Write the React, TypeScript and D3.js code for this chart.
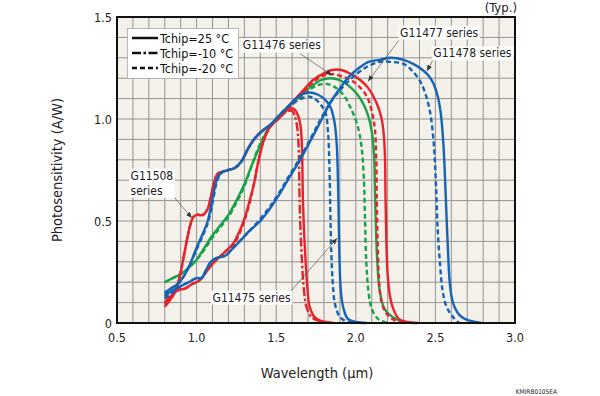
import * as d3 from "d3";
import { useEffect, useRef } from "react";

const WIDTH = 600;
const HEIGHT = 396;
const FONT = "'DejaVu Sans Condensed', 'Liberation Sans', Arial, sans-serif";

// axis ticks
const xTicks = [0.5, 1.0, 1.5, 2.0, 2.5, 3.0];
const yTicks = [0, 0.5, 1.0, 1.5];
const legendItems = ["Tchip=25 °C", "Tchip=-10 °C", "Tchip=-20 °C"];

// [wavelength (um), photosensitivity (A/W)]
const g11508_25 = [
  [0.80, 0.09], [0.84, 0.12], [0.87, 0.16], [0.90, 0.25], [0.93, 0.37], [0.96, 0.48], [0.98, 0.52],
  [1.00, 0.53], [1.04, 0.53], [1.07, 0.56], [1.09, 0.62], [1.11, 0.69], [1.13, 0.73], [1.16, 0.74],
  [1.20, 0.75], [1.24, 0.76], [1.28, 0.79], [1.32, 0.85], [1.36, 0.90], [1.41, 0.94], [1.46, 0.97],
  [1.51, 1.00], [1.55, 1.03], [1.58, 1.05], [1.61, 1.05], [1.63, 1.03], [1.65, 0.98], [1.66, 0.90],
  [1.668, 0.6], [1.675, 0.45], [1.685, 0.3], [1.695, 0.18], [1.71, 0.08], [1.74, 0.03], [1.78, 0.01],
  [1.86, 0],
];
const g11508_m10 = [
  [0.80, 0.08], [0.84, 0.12], [0.87, 0.16], [0.90, 0.25], [0.93, 0.37], [0.96, 0.48], [0.98, 0.52],
  [1.00, 0.53], [1.04, 0.53], [1.07, 0.56], [1.09, 0.62], [1.11, 0.69], [1.13, 0.73], [1.16, 0.74],
  [1.20, 0.75], [1.24, 0.76], [1.28, 0.79], [1.32, 0.85], [1.36, 0.90], [1.41, 0.94], [1.46, 0.97],
  [1.51, 1.00], [1.55, 1.03], [1.58, 1.04], [1.60, 1.04], [1.615, 1.02], [1.63, 0.97], [1.64, 0.88],
  [1.647, 0.6], [1.653, 0.45], [1.662, 0.3], [1.672, 0.18], [1.69, 0.08], [1.72, 0.03], [1.77, 0.01],
  [1.84, 0],
];
const g11475_25 = [
  [0.80, 0.15], [0.84, 0.17], [0.88, 0.19], [0.92, 0.23], [0.96, 0.29], [1.00, 0.37], [1.04, 0.44],
  [1.07, 0.50], [1.09, 0.57], [1.11, 0.65], [1.13, 0.71], [1.16, 0.74], [1.20, 0.75], [1.24, 0.76],
  [1.28, 0.79], [1.32, 0.85], [1.36, 0.90], [1.41, 0.94], [1.46, 0.97], [1.51, 1.01], [1.56, 1.05],
  [1.61, 1.09], [1.66, 1.12], [1.71, 1.13], [1.76, 1.12], [1.80, 1.10], [1.84, 1.06], [1.865, 0.99],
  [1.88, 0.88], [1.888, 0.7], [1.893, 0.5], [1.898, 0.3], [1.905, 0.17], [1.92, 0.08], [1.95, 0.02],
  [2.0, 0.005], [2.07, 0],
];
const g11475_m20 = [
  [0.80, 0.14], [0.84, 0.17], [0.88, 0.19], [0.92, 0.23], [0.96, 0.29], [1.00, 0.36], [1.04, 0.43],
  [1.07, 0.49], [1.09, 0.55], [1.11, 0.63], [1.13, 0.70], [1.16, 0.74], [1.20, 0.75], [1.24, 0.76],
  [1.28, 0.79], [1.32, 0.85], [1.36, 0.90], [1.41, 0.94], [1.46, 0.97], [1.51, 1.01], [1.56, 1.05],
  [1.61, 1.08], [1.66, 1.10], [1.70, 1.11], [1.74, 1.10], [1.78, 1.07], [1.81, 1.03], [1.826, 0.93],
  [1.835, 0.75], [1.84, 0.55], [1.846, 0.35], [1.855, 0.2], [1.87, 0.09], [1.90, 0.03], [1.95, 0.005],
  [2.0, 0],
];
const g11476_25 = [
  [0.80, 0.20], [0.85, 0.22], [0.90, 0.24], [0.95, 0.27], [1.00, 0.31], [1.05, 0.37], [1.10, 0.43],
  [1.15, 0.48], [1.20, 0.53], [1.25, 0.60], [1.30, 0.68], [1.35, 0.78], [1.40, 0.87], [1.45, 0.95],
  [1.50, 1.00], [1.55, 1.04], [1.60, 1.08], [1.66, 1.12], [1.72, 1.16], [1.78, 1.19], [1.84, 1.20],
  [1.90, 1.19], [1.96, 1.16], [2.01, 1.12], [2.05, 1.07], [2.08, 1.01], [2.10, 0.94], [2.115, 0.82],
  [2.12, 0.65], [2.125, 0.5], [2.135, 0.3], [2.15, 0.16], [2.18, 0.07], [2.23, 0.03], [2.28, 0.01],
  [2.32, 0],
];
const g11476_m20 = [
  [0.80, 0.20], [0.85, 0.22], [0.90, 0.24], [0.95, 0.27], [1.00, 0.31], [1.05, 0.36], [1.10, 0.42],
  [1.15, 0.47], [1.20, 0.52], [1.25, 0.59], [1.30, 0.67], [1.35, 0.78], [1.40, 0.88], [1.45, 0.95],
  [1.50, 0.99], [1.55, 1.03], [1.60, 1.07], [1.66, 1.11], [1.72, 1.15], [1.78, 1.17], [1.83, 1.17],
  [1.88, 1.15], [1.93, 1.11], [1.97, 1.05], [2.01, 0.97], [2.035, 0.87], [2.05, 0.72], [2.058, 0.5],
  [2.066, 0.3], [2.08, 0.15], [2.10, 0.07], [2.14, 0.02], [2.2, 0],
];
const g11477_25 = [
  [0.80, 0.10], [0.85, 0.14], [0.88, 0.16], [0.93, 0.17], [0.97, 0.19], [1.02, 0.21], [1.06, 0.25],
  [1.10, 0.29], [1.14, 0.32], [1.18, 0.35], [1.23, 0.39], [1.27, 0.45], [1.30, 0.51], [1.33, 0.59],
  [1.36, 0.68], [1.39, 0.80], [1.42, 0.89], [1.46, 0.96], [1.51, 1.00], [1.56, 1.04], [1.61, 1.09],
  [1.67, 1.14], [1.73, 1.19], [1.79, 1.22], [1.85, 1.24], [1.91, 1.24], [1.97, 1.22], [2.03, 1.19],
  [2.08, 1.15], [2.13, 1.08], [2.16, 1.01], [2.175, 0.93], [2.183, 0.82], [2.187, 0.6], [2.192, 0.4],
  [2.20, 0.24], [2.215, 0.13], [2.235, 0.07], [2.27, 0.02], [2.32, 0.005], [2.39, 0],
];
const g11477_m20 = [
  [0.80, 0.10], [0.85, 0.14], [0.88, 0.16], [0.93, 0.17], [0.97, 0.19], [1.02, 0.21], [1.06, 0.25],
  [1.10, 0.29], [1.14, 0.32], [1.18, 0.35], [1.23, 0.38], [1.27, 0.44], [1.30, 0.50], [1.33, 0.58],
  [1.36, 0.68], [1.39, 0.80], [1.42, 0.89], [1.46, 0.96], [1.51, 1.00], [1.56, 1.04], [1.61, 1.08],
  [1.67, 1.13], [1.73, 1.18], [1.79, 1.21], [1.85, 1.22], [1.91, 1.21], [1.97, 1.19], [2.02, 1.16],
  [2.07, 1.11], [2.10, 1.04], [2.12, 0.95], [2.128, 0.82], [2.132, 0.6], [2.137, 0.4], [2.145, 0.22],
  [2.16, 0.11], [2.19, 0.05], [2.24, 0.015], [2.3, 0],
];
const g11478_25 = [
  [0.80, 0.13], [0.85, 0.16], [0.90, 0.18], [0.95, 0.20], [1.00, 0.22], [1.03, 0.22], [1.06, 0.26],
  [1.09, 0.30], [1.13, 0.32], [1.18, 0.33], [1.22, 0.36], [1.27, 0.40], [1.33, 0.45], [1.40, 0.50],
  [1.46, 0.56], [1.52, 0.63], [1.58, 0.71], [1.65, 0.80], [1.72, 0.90], [1.78, 0.99], [1.84, 1.08],
  [1.90, 1.15], [1.96, 1.21], [2.02, 1.25], [2.08, 1.28], [2.15, 1.29], [2.22, 1.30], [2.30, 1.29],
  [2.36, 1.27], [2.42, 1.24], [2.46, 1.21], [2.49, 1.17], [2.515, 1.11], [2.535, 1.02], [2.55, 0.88],
  [2.56, 0.72], [2.57, 0.52], [2.58, 0.34], [2.59, 0.2], [2.61, 0.1], [2.65, 0.04], [2.70, 0.015],
  [2.79, 0],
];
const g11478_m20 = [
  [0.80, 0.12], [0.85, 0.15], [0.90, 0.18], [0.95, 0.20], [1.00, 0.22], [1.03, 0.22], [1.06, 0.26],
  [1.09, 0.30], [1.13, 0.32], [1.18, 0.33], [1.22, 0.36], [1.27, 0.40], [1.33, 0.45], [1.40, 0.51],
  [1.46, 0.57], [1.52, 0.64], [1.58, 0.72], [1.65, 0.81], [1.72, 0.91], [1.78, 1.00], [1.84, 1.08],
  [1.90, 1.14], [1.96, 1.19], [2.02, 1.23], [2.08, 1.26], [2.15, 1.28], [2.22, 1.28], [2.30, 1.27],
  [2.35, 1.24], [2.40, 1.19], [2.43, 1.14], [2.46, 1.06], [2.48, 0.96], [2.495, 0.82], [2.505, 0.65],
  [2.515, 0.45], [2.53, 0.28], [2.545, 0.16], [2.57, 0.08], [2.61, 0.03], [2.65, 0],
];

// annotation labels: text lines, label anchor and arrow start/tip (data units)
const annotations = [
  { lines: ["G11476 series"], at: [1.29, 1.363], from: [1.65, 1.32], tip: [1.85, 1.215] },
  { lines: ["G11477 series"], at: [2.278, 1.426], from: [2.27, 1.385], tip: [2.077, 1.185] },
  { lines: ["G11478 series"], at: [2.487, 1.324], from: [2.485, 1.29], tip: [2.447, 1.235] },
  { lines: ["G11508", "series"], at: [0.585, 0.725], from: [0.85, 0.625], tip: [0.97, 0.515] },
  { lines: ["G11475 series"], at: [1.1, 0.127], from: [1.585, 0.15], tip: [1.882, 0.415] },
];

const RED = "#e8222b";
const BLUE = "#1463b5";
const GREEN = "#17a249";
const DASH = "5,3";
const DASHDOT = "9,2.5,2.5,2.5";

const series = [
  { data: g11476_m20, color: GREEN, dash: DASH },
  { data: g11476_25, color: GREEN, dash: null },
  { data: g11477_m20, color: RED, dash: DASH },
  { data: g11477_25, color: RED, dash: null },
  { data: g11508_m10, color: RED, dash: DASHDOT },
  { data: g11508_25, color: RED, dash: null },
  { data: g11475_m20, color: BLUE, dash: DASH },
  { data: g11475_25, color: BLUE, dash: null },
  { data: g11478_m20, color: BLUE, dash: DASH },
  { data: g11478_25, color: BLUE, dash: null },
];

const App = () => {
  const svgRef = useRef(null);

  useEffect(() => {
    const svg = d3.select(svgRef.current);
    svg.selectAll("*").remove();

    const x = d3.scaleLinear().domain([0.5, 3.0]).range([117, 515]);
    const y = d3.scaleLinear().domain([0, 1.5]).range([323, 17]);

    svg
      .append("defs")
      .append("marker")
      .attr("id", "arr")
      .attr("markerUnits", "userSpaceOnUse")
      .attr("markerWidth", 6)
      .attr("markerHeight", 5)
      .attr("refX", 6)
      .attr("refY", 2.5)
      .attr("orient", "auto")
      .append("path")
      .attr("d", "M0,0 L6,2.5 L0,5 z")
      .attr("fill", "#333");

    // plot background
    svg
      .append("rect")
      .attr("x", x(0.5))
      .attr("y", y(1.5))
      .attr("width", x(3.0) - x(0.5))
      .attr("height", y(0) - y(1.5))
      .attr("fill", "#f3f1e9");

    // grid every 0.1
    const grid = svg.append("g").attr("stroke", "#939390").attr("stroke-width", 1);
    d3.range(6, 30).forEach((i) => {
      grid.append("line").attr("x1", x(i / 10)).attr("x2", x(i / 10)).attr("y1", y(0)).attr("y2", y(1.5));
    });
    d3.range(1, 15).forEach((i) => {
      grid.append("line").attr("x1", x(0.5)).attr("x2", x(3.0)).attr("y1", y(i / 10)).attr("y2", y(i / 10));
    });

    // curves
    const line = d3
      .line()
      .x((d) => x(d[0]))
      .y((d) => y(d[1]))
      .curve(d3.curveCatmullRom.alpha(0.5));
    series.forEach((s) => {
      svg
        .append("path")
        .datum(s.data)
        .attr("fill", "none")
        .attr("stroke", s.color)
        .attr("stroke-width", 2.4)
        .attr("stroke-dasharray", s.dash)
        .attr("d", line);
    });

    // frame
    svg
      .append("rect")
      .attr("x", x(0.5))
      .attr("y", y(1.5))
      .attr("width", x(3.0) - x(0.5))
      .attr("height", y(0) - y(1.5))
      .attr("fill", "none")
      .attr("stroke", "#111")
      .attr("stroke-width", 2);

    // tick labels
    svg
      .append("g")
      .selectAll("text")
      .data(xTicks)
      .join("text")
      .attr("x", (d) => x(d))
      .attr("y", 342)
      .attr("text-anchor", "middle")
      .attr("font-family", FONT)
      .attr("font-size", 12.5)
      .attr("fill", "#222")
      .text((d) => d.toFixed(1));
    svg
      .append("g")
      .selectAll("text")
      .data(yTicks)
      .join("text")
      .attr("x", 112)
      .attr("y", (d) => y(d) + 4.5)
      .attr("text-anchor", "end")
      .attr("font-family", FONT)
      .attr("font-size", 12.5)
      .attr("fill", "#222")
      .text((d) => (d === 0 ? "0" : d.toFixed(1)));

    // axis titles
    svg
      .append("text")
      .attr("x", 317)
      .attr("y", 378)
      .attr("text-anchor", "middle")
      .attr("font-family", FONT)
      .attr("font-size", 14.5)
      .attr("fill", "#222")
      .text("Wavelength (µm)");
    svg
      .append("text")
      .attr("transform", "translate(62,170) rotate(-90)")
      .attr("text-anchor", "middle")
      .attr("font-family", FONT)
      .attr("font-size", 14.5)
      .attr("fill", "#222")
      .text("Photosensitivity (A/W)");
    svg
      .append("text")
      .attr("x", 517)
      .attr("y", 12)
      .attr("text-anchor", "end")
      .attr("font-family", FONT)
      .attr("font-size", 13)
      .attr("fill", "#222")
      .text("(Typ.)");
    svg
      .append("text")
      .attr("x", 557)
      .attr("y", 394)
      .attr("text-anchor", "end")
      .attr("font-family", FONT)
      .attr("font-size", 6.5)
      .attr("fill", "#222")
      .text("KMIRB0105EA");

    // annotations
    const ann = svg.append("g");
    annotations.forEach((a) => {
      ann
        .append("line")
        .attr("x1", x(a.from[0]))
        .attr("y1", y(a.from[1]))
        .attr("x2", x(a.tip[0]))
        .attr("y2", y(a.tip[1]))
        .attr("stroke", "#555")
        .attr("stroke-width", 0.7)
        .attr("marker-end", "url(#arr)");
      const t = ann
        .append("text")
        .attr("font-family", FONT)
        .attr("font-size", 12)
        .attr("fill", "#222");
      a.lines.forEach((l, i) => {
        t.append("tspan")
          .attr("x", x(a.at[0]))
          .attr("y", y(a.at[1]) + 4.5 + i * 15)
          .text(l);
      });
      const b = t.node().getBBox();
      ann
        .insert("rect", () => t.node())
        .attr("x", b.x - 1.5)
        .attr("y", b.y)
        .attr("width", b.width + 3)
        .attr("height", b.height)
        .attr("fill", "#fff");
    });

    // legend
    const lg = svg.append("g");
    lg.append("rect")
      .attr("x", 127.5)
      .attr("y", 28.5)
      .attr("width", 111)
      .attr("height", 50)
      .attr("fill", "#fff")
      .attr("stroke", "#aaa")
      .attr("stroke-width", 0.8);
    const legendDash = [null, DASHDOT, DASH];
    legendItems.forEach((label, i) => {
      const ly = 38 + i * 15;
      lg.append("line")
        .attr("x1", 132)
        .attr("x2", 158)
        .attr("y1", ly)
        .attr("y2", ly)
        .attr("stroke", "#111")
        .attr("stroke-width", 2.5)
        .attr("stroke-dasharray", legendDash[i]);
      lg.append("text")
        .attr("x", 160)
        .attr("y", ly + 4.5)
        .attr("font-family", FONT)
        .attr("font-size", 12.5)
        .attr("fill", "#111")
        .text(label);
    });
  }, []);

  return (
    <svg
      ref={svgRef}
      width={WIDTH}
      height={HEIGHT}
      style={{ position: "absolute", left: 0, top: 0, background: "#fff" }}
    ></svg>
  );
};

export default App;
